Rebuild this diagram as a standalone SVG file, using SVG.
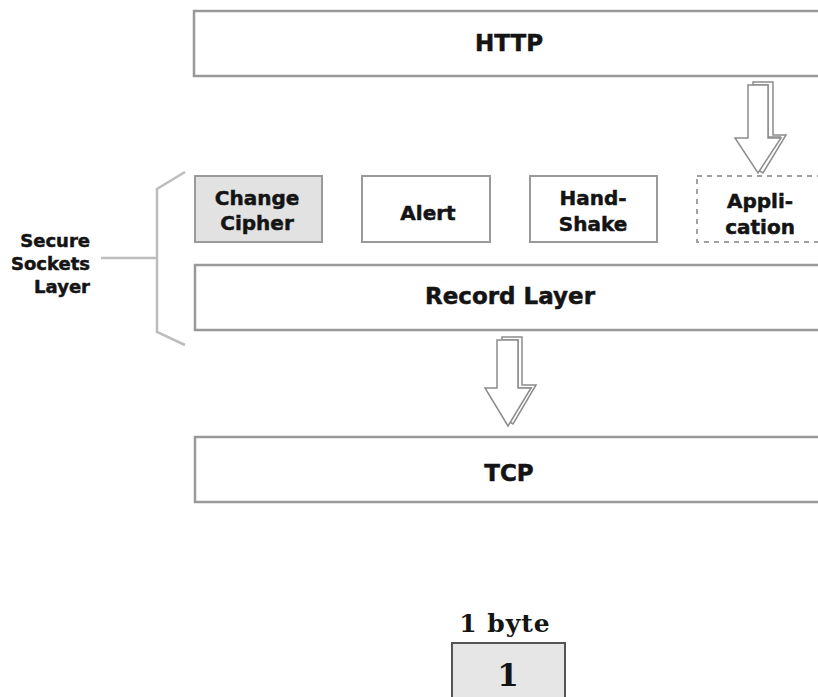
<svg xmlns="http://www.w3.org/2000/svg" width="818" height="697" viewBox="0 0 818 697">
  <style>
    .layer { fill: #ffffff; stroke: #999999; stroke-width: 2.5; }
    .box { fill: #ffffff; stroke: #9a9a9a; stroke-width: 2; }
    .shade { fill: #e2e2e2; }
    .dashed { fill: #ffffff; stroke: #a0a0a0; stroke-width: 2; stroke-dasharray: 5 5; }
    .label { font-family: "DejaVu Sans", Verdana, sans-serif; font-weight: bold; fill: #141414; stroke: #141414; stroke-width: 0.5; }
    .big { font-size: 23px; text-anchor: middle; }
    .small { font-size: 20px; text-anchor: middle; }
    .side { font-size: 18px; text-anchor: end; }
    .serif { font-family: "DejaVu Serif", "Liberation Serif", serif; font-weight: bold; fill: #141414; text-anchor: middle; }
    .arrow { fill: #ffffff; stroke: #8c8c8c; stroke-width: 1.5; stroke-linejoin: miter; }
    .arrow-edge { fill: #ffffff; stroke: #8c8c8c; stroke-width: 1.5; }
    .bracket { fill: none; stroke: #bdbdbd; stroke-width: 2.5; }
  </style>

  <!-- protocol layers -->
  <g id="http">
    <rect class="layer" x="194" y="11" width="640" height="65"/>
    <text class="label big" x="509" y="51">HTTP</text>
  </g>

  <g id="change-cipher">
    <rect class="box shade" x="195" y="176" width="127" height="66"/>
    <text class="label small" x="257" y="205">Change</text>
    <text class="label small" x="257" y="230">Cipher</text>
  </g>

  <g id="alert">
    <rect class="box" x="362" y="176" width="128" height="66"/>
    <text class="label small" x="428" y="220">Alert</text>
  </g>

  <g id="handshake">
    <rect class="box" x="530" y="176" width="127" height="66"/>
    <text class="label small" x="593" y="205">Hand-</text>
    <text class="label small" x="593" y="231">Shake</text>
  </g>

  <g id="application">
    <rect class="dashed" x="697" y="176" width="128" height="66"/>
    <text class="label small" x="760" y="208">Appli-</text>
    <text class="label small" x="760" y="234">cation</text>
  </g>

  <g id="record-layer">
    <rect class="layer" x="195" y="265" width="640" height="65"/>
    <text class="label big" x="510" y="304">Record Layer</text>
  </g>

  <g id="tcp">
    <rect class="layer" x="195" y="437" width="640" height="65"/>
    <text class="label big" x="509" y="481">TCP</text>
  </g>

  <g id="ssl-label">
    <text class="label side" x="90" y="247">Secure</text>
    <text class="label side" x="90" y="270">Sockets</text>
    <text class="label side" x="90" y="293">Layer</text>
  </g>

  <g id="byte-field">
    <text class="serif" x="505" y="632" font-size="25" letter-spacing="1">1 byte</text>
    <rect x="452" y="643" width="113" height="70" fill="#e6e6e6" stroke="#555555" stroke-width="2"/>
    <text class="serif" x="508" y="686" font-size="31">1</text>
  </g>

  <!-- connectors -->
  <g id="connectors">
    <!-- brace grouping the SSL sub-layers -->
    <polyline class="bracket" points="185,172 157,189 157,332 185,345"/>
    <line class="bracket" x1="101" y1="258" x2="157" y2="258"/>

    <!-- HTTP to Application: hollow block arrow with extruded edge -->
    <polygon class="arrow-edge" points="753,82 773,82 773,135 786,135 763,173 758,170 780,137 768,137 768,85 753,85"/>
    <polygon class="arrow" points="748,85 768,85 768,138 781,138 758,173 735,138 748,138"/>

    <!-- Record Layer to TCP -->
    <polygon class="arrow-edge" points="502,337 522,337 522,385 536,385 513,424 508,421 531,388 518,388 518,340 502,340"/>
    <polygon class="arrow" points="497,340 518,340 518,388 531,388 508,426 485,388 497,388"/>
  </g>
</svg>
